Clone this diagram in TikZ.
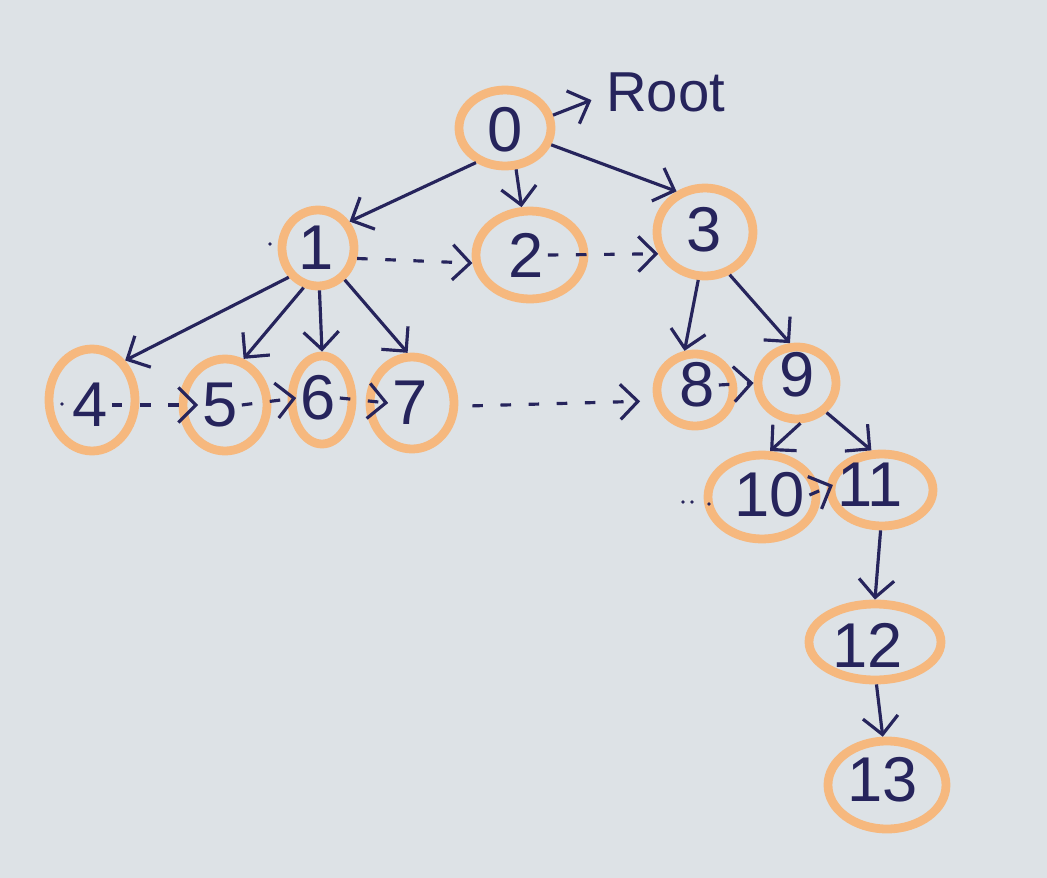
\documentclass[tikz,border=0pt]{standalone}
\usepackage{fontspec}
\setmainfont{Liberation Sans}
\usetikzlibrary{shapes.geometric,arrows.meta}
\definecolor{paper}{RGB}{221,226,230}
\definecolor{ringc}{RGB}{246,184,126}
\definecolor{ink}{RGB}{38,36,92}
\begin{document}
\begin{tikzpicture}[x=0.01cm,y=-0.01cm,
  ringnode/.style 2 args={ellipse, draw=ringc, line width=2.5pt, minimum width=#1*0.01cm, minimum height=#2*0.01cm, inner sep=0pt},
  lbl/.style={text=ink, font=\fontsize{18}{20}\selectfont, inner sep=1pt},
  arr/.style={draw=ink, line width=0.9pt, -{Straight Barb[length=5pt,width=10pt,line width=0.9pt]}},
  darr/.style={arr, dash pattern=on 3pt off 5pt}]
\fill[paper] (0,0) rectangle (1047,878);
\useasboundingbox (0,0) rectangle (1047,878);
% rings
\node[ringnode={92}{76}]  (n0)  at (505,128) {};
\node[ringnode={72}{76}]  (n1)  at (318,248) {};
\node[ringnode={108}{88}] (n2)  at (530,255) {};
\node[ringnode={96}{88}]  (n3)  at (705,232) {};
\node[ringnode={86}{102}] (n4)  at (92,400) {};
\node[ringnode={84}{92}]  (n5)  at (225,405) {};
\node[ringnode={60}{88}]  (n6)  at (322,400) {};
\node[ringnode={84}{92}]  (n7)  at (412,403) {};
\node[ringnode={76}{72}]  (n8)  at (695,390) {};
\node[ringnode={78}{72}]  (n9)  at (797,383) {};
\node[ringnode={108}{84}] (n10) at (762,497) {};
\node[ringnode={102}{72}] (n11) at (882,490) {};
\node[ringnode={132}{76}] (n12) at (875,642) {};
\node[ringnode={118}{88}] (n13) at (887,785) {};
% labels
\node[lbl] (t0)  at (505,130) {0};
\node[lbl] (t1)  at (316,248) {1};
\node[lbl] (t2)  at (526,255) {2};
\node[lbl] (t3)  at (704,230) {3};
\node[lbl] (t4)  at (90,405)  {4};
\node[lbl] (t5)  at (220,405) {5};
\node[lbl] (t6)  at (318,398) {6};
\node[lbl] (t7)  at (410,403) {7};
\node[lbl] (t8)  at (697,385) {8};
\node[lbl] (t9)  at (797,375) {9};
\node[lbl] (t10) at (770,495) {10};
\node[lbl] (t11) at (870,485) {11};
\node[lbl] (t12) at (868,645) {12};
\node[lbl] (t13) at (883,780) {13};
\node[lbl, anchor=west, font=\fontsize{16}{18}\selectfont] (root) at (602,92) {Root};
% solid edges
\draw[arr] (n0.15) -- ([xshift=-3pt,yshift=-2.3pt]root.west);
\draw[arr] (n0.230) -- (n1.40);
\draw[arr] (n0.285) -- (n2.100);
\draw[arr] (n0.340) -- (n3.125);
\draw[arr] (n1.225) -- (n4.50);
\draw[arr] (n1.250) -- (n5.68);
\draw[arr] (n1.272) -- (n6.90);
\draw[arr] (n1.310) -- (n7.95);
\draw[arr] (n3.262) -- (n8.105);
\draw[arr] (n3.300) -- (n9.100);
\draw[arr] (n9.275) -- (n10.80);
\draw[arr] (n9.315) -- (n11.105);
\draw[arr] (n11.268) -- (n12.90);
\draw[arr] (n12.272) -- (n13.95);
% dashed sibling links
\draw[darr] (n1.345) -- (n2.188);
\draw[darr] (t2.east) -- (n3.205);
\draw[darr] (t4.east) -- (t5.west);
\draw[darr] (t5.east) -- (t6.west);
\draw[darr] (t6.east) -- (t7.west);
\draw[darr, shorten <=4pt, shorten >=4pt] (n7.356) -- (n8.195);
\draw[darr] (t8.east) -- (n9.west);
\draw[darr] (t10.east) -- (t11.west);
% stray dots
\fill[ink] (270,244) circle (1.8);
\fill[ink] (62,404) circle (1.8);
\fill[ink] (683,502) circle (1.8);
\fill[ink] (692,502) circle (1.8);
\fill[ink] (709,504) circle (1.8);
\end{tikzpicture}
\end{document}
